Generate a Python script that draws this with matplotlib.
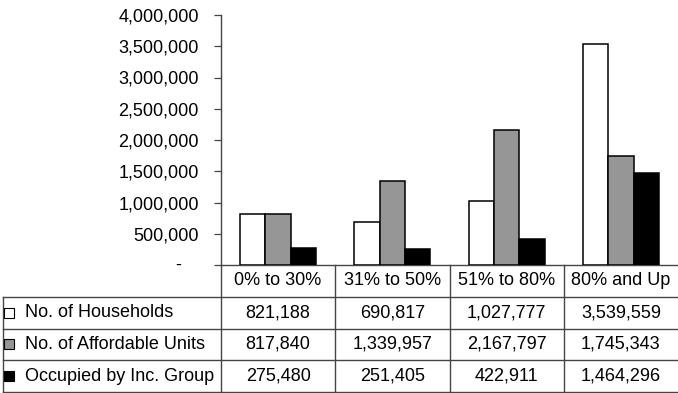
import numpy as np
import matplotlib.pyplot as plt
import matplotlib.ticker as ticker

plt.rcParams['font.family'] = ['Liberation Sans', 'DejaVu Sans']

# income groups and the three series shown in the chart / table
groups = ["0% to 30%", "31% to 50%", "51% to 80%", "80% and Up"]
series_names = ["No. of Households", "No. of Affordable Units", "Occupied by Inc. Group"]
households = [821188, 690817, 1027777, 3539559]
affordable = [817840, 1339957, 2167797, 1745343]
occupied = [275480, 251405, 422911, 1464296]
colors = ["white", "#969696", "black"]

W, H = 678, 393
fig = plt.figure(figsize=(W / 100, H / 100), dpi=100)

# pixel layout of the plot area and of the data table beneath it
plot_left, plot_top, plot_bottom = 221, 15, 265
table_left, table_bottom = 3, 392
line_col = "#454545"
fs = 13

ax = fig.add_axes([plot_left / W, (H - plot_bottom) / H,
                   (W - plot_left) / W, (plot_bottom - plot_top) / H])

x = np.arange(len(groups))
bw = 1 / 4.5  # gap width 150%
for i, (vals, c) in enumerate(zip([households, affordable, occupied], colors)):
    ax.bar(x + (i - 1) * bw, vals, width=bw, color=c, edgecolor="black", linewidth=1.1, zorder=3)

ax.set_xlim(-0.5, len(groups) - 0.5)
ax.set_ylim(0, 4000000)
ax.yaxis.set_major_locator(ticker.MultipleLocator(500000))
ax.yaxis.set_major_formatter(ticker.FuncFormatter(lambda v, p: "" if v == 0 else f"{v:,.0f}"))
ax.set_xticks([])
ax.tick_params(axis="y", length=5, width=0.9, pad=11, labelsize=fs, color=line_col)
for s in ["top", "right"]:
    ax.spines[s].set_visible(False)
for s in ["left", "bottom"]:
    ax.spines[s].set_color(line_col)
    ax.spines[s].set_linewidth(1.0)
# accounting-style dash for zero
ax.annotate("-", xy=(0, 0), xycoords=("axes fraction", "data"), xytext=(-29, 0),
            textcoords="offset points", ha="right", va="center", fontsize=fs)

# data table
tab = fig.add_axes([table_left / W, (H - table_bottom) / H,
                    (W - table_left) / W, (table_bottom - plot_bottom) / H])
unit = (W - plot_left) / len(groups)
xmin = -0.5 - (plot_left - table_left) / unit
tab.set_xlim(xmin, len(groups) - 0.5)
tab.set_ylim(4, 0)
tab.axis("off")

lk = dict(color=line_col, lw=1.0, clip_on=False)
for r in [1, 2, 3, 4]:
    tab.plot([xmin, len(groups) - 0.5], [r, r], **lk)
tab.plot([xmin, xmin], [1, 4], **lk)
for b in np.arange(len(groups)) - 0.5:
    tab.plot([b, b], [0, 4], **lk)

for j, g in enumerate(groups):
    tab.text(j, 0.5, g, ha="center", va="center", fontsize=fs)

for r, (name, vals, c) in enumerate(zip(series_names, [households, affordable, occupied], colors)):
    yc = r + 1.5
    tab.plot([xmin + 6.5 / unit], [yc], marker="s", ms=7.8, mfc=c, mec="black", mew=0.8, clip_on=False)
    tab.text(xmin + 22 / unit, yc, name, ha="left", va="center", fontsize=fs)
    for j, v in enumerate(vals):
        tab.text(j, yc, f"{v:,}", ha="center", va="center", fontsize=fs)

fig.savefig("out.png", dpi=100)
